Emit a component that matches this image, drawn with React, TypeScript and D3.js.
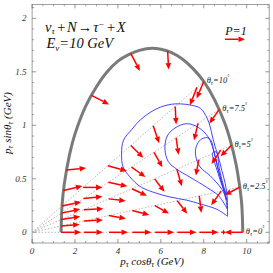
import React from 'react';
import * as d3 from 'd3';

// kinematic boundary (thick gray)
const boundaryX = [1.35, 1.4, 1.5, 1.75, 2, 2.5, 3, 3.5, 4, 4.5, 5, 5.6, 6, 6.5, 7, 7.5, 8, 8.5, 9, 9.25, 9.5, 9.66, 9.77, 9.82];
const boundaryY = [0, 0.26, 0.45, 0.73, 0.92, 1.18, 1.36, 1.5, 1.6, 1.66, 1.7, 1.72, 1.71, 1.68, 1.62, 1.53, 1.41, 1.24, 1.01, 0.85, 0.64, 0.45, 0.26, 0];

// dotted guide rays
const rayAngles = [0, 2.5, 5, 7.5, 10];
const rayEndP = [9.82, 9.69, 9.33, 8.8, 8.12];
const rayLabels = ['0', '2.5', '5', '7.5', '10'];

// polarization arrows: tail at (theta, p), vector (Px, Py)
const arrowTheta = [
  0, 0, 0, 0, 0, 0, 0, 0, 0,
  2.5, 2.5, 2.5, 2.5, 2.5, 2.5, 2.5, 2.5, 2.5,
  5, 5, 5, 5, 5, 5, 5, 5, 5,
  7.5, 7.5, 7.5, 7.5, 7.5, 7.5, 7.5, 7.5,
  10, 10, 10, 10, 10, 10, 10, 10,
  15, 15, 20, 20, 24.8,
];
const arrowP = [
  1.35, 2.417, 3.584, 4.673, 5.731, 6.771, 7.8, 8.82, 9.82,
  1.354, 2.417, 3.584, 4.673, 5.731, 6.771, 7.8, 8.82, 9.69,
  1.365, 2.417, 3.584, 4.673, 5.731, 6.771, 7.8, 8.82, 9.33,
  1.373, 2.417, 3.584, 4.673, 5.731, 6.771, 7.8, 8.8,
  1.415, 2.417, 3.584, 4.673, 5.731, 6.771, 7.8, 8.12,
  1.511, 6.54, 1.7, 4.89, 3.05,
];
const arrowPx = [
  1, 0.95, 0.95, 0.95, 0.95, 0.95, 0.95, 0.2, -0.9,
  0.925, 0.95, 0.85, 0.85, 0.7, 0.5, 0.1, -0.5, -0.75,
  0.95, 0.98, 0.85, 0.75, 0.5, 0.25, -0.15, -0.45, -0.55,
  0.95, 0.95, 0.95, 0.7, 0.42, 0.12, -0.2, -0.5,
  0.96, 0.97, 0.95, 0.62, 0.3, 0.05, -0.35, -0.35,
  0.95, 0.05, 0.99, 0.46, 0.88,
];
const arrowPy = [
  0, 0, 0, 0, 0, 0, 0, 0, 0,
  0.075, 0.05, -0.15, -0.225, -0.4, -0.65, -0.85, -0.7, -0.4,
  0.15, 0.05, -0.1, -0.35, -0.65, -0.85, -0.8, -0.7, -0.55,
  0.2, 0.1, -0.2, -0.5, -0.75, -0.85, -0.85, -0.7,
  0.2, 0, -0.26, -0.62, -0.87, -0.9, -0.9, -0.85,
  0.22, -0.92, 0.1, -0.88, -0.45,
];

// blue contour loops
const loopOuter: [number, number][] = [
  [9.11, 0.15], [8.61, 0.215], [7.83, 0.265], [7.21, 0.3], [6.43, 0.33], [5.64, 0.375], [5.02, 0.43],
  [4.56, 0.518], [4.24, 0.611], [4.17, 0.737], [4.26, 0.86], [4.64, 0.96], [5.04, 1.05], [5.5, 1.12],
  [5.98, 1.17], [6.5, 1.197], [6.91, 1.2], [7.36, 1.19], [7.85, 1.158], [8.16, 1.065], [8.3, 0.986],
  [8.4, 0.9], [8.53, 0.8], [8.68, 0.705], [8.84, 0.58], [9.0, 0.456], [9.09, 0.33], [9.11, 0.15],
];
const loopMiddle: [number, number][] = [
  [9.09, 0.22], [8.7, 0.34], [8.14, 0.42], [7.36, 0.515], [6.74, 0.59], [6.35, 0.66], [6.19, 0.78],
  [6.3, 0.9], [6.66, 0.975], [7.21, 1.015], [7.75, 0.98], [8.21, 0.89], [8.45, 0.77], [8.68, 0.58],
  [8.89, 0.42], [9.04, 0.3], [9.09, 0.22],
];
const loopInner: [number, number][] = [
  [9.08, 0.3], [8.85, 0.4], [8.29, 0.53], [7.83, 0.61], [7.62, 0.72], [7.65, 0.8], [7.85, 0.865],
  [8.14, 0.885], [8.33, 0.86], [8.48, 0.75], [8.66, 0.6], [8.85, 0.46], [9.0, 0.36], [9.08, 0.3],
];
const loopSmall: [number, number][] = [
  [9.05, 0.35], [8.85, 0.44], [8.62, 0.58], [8.45, 0.69], [8.4, 0.73], [8.48, 0.755], [8.6, 0.745],
  [8.72, 0.6], [8.9, 0.45], [9.05, 0.35],
];

const xTicks = [0, 2, 4, 6, 8, 10];
const yTicks = [0, 0.5, 1, 1.5, 2];
const yTickLabels = ['0', '0.5', '1', '1.5', '2'];

const RED = '#ff0000';
const FONT = '"Liberation Serif", "Times New Roman", serif';

const x = d3.scaleLinear().domain([0, 11.05]).range([32.1, 269.2]);
const y = d3.scaleLinear().domain([0, 2]).range([232.3, 18.3]);
const xMin = 0, xMax = 11.05, yMin = -0.1, yMax = 2.13;

const Arrow = ({ x1, y1, x2, y2 }: { x1: number; y1: number; x2: number; y2: number }) => {
  const ang = Math.atan2(y2 - y1, x2 - x1);
  const len = Math.hypot(x2 - x1, y2 - y1);
  const hl = Math.min(6.5, len * 0.6);
  const hw = 2.8;
  const bx = x2 - hl * Math.cos(ang);
  const by = y2 - hl * Math.sin(ang);
  const pts = [
    [x2, y2],
    [bx + hw * Math.sin(ang), by - hw * Math.cos(ang)],
    [bx - hw * Math.sin(ang), by + hw * Math.cos(ang)],
  ];
  return (
    <g>
      <line x1={x1} y1={y1} x2={bx} y2={by} stroke={RED} strokeWidth={1.5} />
      <polygon points={pts.map(p => p.join(',')).join(' ')} fill={RED} />
    </g>
  );
};

const Theta = ({ label }: { label: string }) => (
  <>
    θ<tspan fontSize="0.7em" dy="2">τ</tspan>
    <tspan dy="-2">={label}</tspan>
    <tspan fontSize="0.6em" dy="-4">°</tspan>
  </>
);

const App: React.FC = () => {
  const unit = x(0.932) - x(0); // |P| = 1 in pixels

  const boundary = d3.line<number>()
    .x((_, i) => x(boundaryX[i]))
    .y((_, i) => y(boundaryY[i]))
    .curve(d3.curveCatmullRom.alpha(0.5));

  const loopLine = d3.line<[number, number]>()
    .x(d => x(d[0]))
    .y(d => y(d[1]))
    .curve(d3.curveCatmullRom.alpha(0.5));

  const rad = (deg: number) => (deg * Math.PI) / 180;

  const xMinor = d3.range(0, 11.01, 0.5).filter(v => Math.abs(v % 2) > 1e-6);
  const yMinor = d3.range(-0.1, 2.13, 0.1).filter(v => Math.abs(Math.round(v * 10) % 5) !== 0);

  const fx0 = x(xMin), fx1 = x(xMax), fy0 = y(yMin), fy1 = y(yMax);
  const tickCol = '#555';

  return (
    <div style={{ position: 'absolute', left: 0, top: 0 }}>
      <svg width={273} height={273} style={{ display: 'block', background: '#fff' }}>
        {/* frame */}
        <rect x={fx0} y={fy1} width={fx1 - fx0} height={fy0 - fy1} fill="none" stroke="#888" strokeWidth={0.8} />
        {xTicks.map(t => (
          <g key={'xt' + t}>
            <line x1={x(t)} x2={x(t)} y1={fy0} y2={fy0 - 4} stroke={tickCol} strokeWidth={0.6} />
            <line x1={x(t)} x2={x(t)} y1={fy1} y2={fy1 + 4} stroke={tickCol} strokeWidth={0.6} />
            <text x={x(t)} y={254} fontSize={9} fontStyle="italic" fontFamily={FONT} textAnchor="middle" fill="#333">{t}</text>
          </g>
        ))}
        {xMinor.map(t => (
          <g key={'xm' + t}>
            <line x1={x(t)} x2={x(t)} y1={fy0} y2={fy0 - 2} stroke={tickCol} strokeWidth={0.5} />
            <line x1={x(t)} x2={x(t)} y1={fy1} y2={fy1 + 2} stroke={tickCol} strokeWidth={0.5} />
          </g>
        ))}
        {yTicks.map((t, i) => (
          <g key={'yt' + t}>
            <line x1={fx0} x2={fx0 + 4} y1={y(t)} y2={y(t)} stroke={tickCol} strokeWidth={0.6} />
            <line x1={fx1} x2={fx1 - 4} y1={y(t)} y2={y(t)} stroke={tickCol} strokeWidth={0.6} />
            <text x={26.5} y={y(t) + 3} fontSize={9} fontStyle="italic" fontFamily={FONT} textAnchor="end" fill="#333">{yTickLabels[i]}</text>
          </g>
        ))}
        {yMinor.map(t => (
          <g key={'ym' + t.toFixed(2)}>
            <line x1={fx0} x2={fx0 + 2} y1={y(t)} y2={y(t)} stroke={tickCol} strokeWidth={0.5} />
            <line x1={fx1} x2={fx1 - 2} y1={y(t)} y2={y(t)} stroke={tickCol} strokeWidth={0.5} />
          </g>
        ))}

        {/* dotted rays */}
        {rayAngles.map((a, i) => (
          <line key={'ray' + a}
            x1={x(0)} y1={y(0)}
            x2={x(rayEndP[i] * Math.cos(rad(a)))} y2={y(rayEndP[i] * Math.sin(rad(a)))}
            stroke="#aaa" strokeWidth={0.8} strokeDasharray="1.6,1.6" />
        ))}

        {/* contours */}
        {[loopOuter, loopMiddle, loopInner, loopSmall].map((lp, i) => (
          <path key={'loop' + i} d={loopLine(lp) || ''} fill="none" stroke="#2f2fff" strokeWidth={0.9} />
        ))}

        {/* boundary */}
        <path d={boundary(boundaryX) || ''} fill="none" stroke="#7a7a7a" strokeWidth={3} />

        {/* arrows */}
        {arrowTheta.map((a, i) => {
          const tx = x(arrowP[i] * Math.cos(rad(a)));
          const ty = y(arrowP[i] * Math.sin(rad(a)));
          return <Arrow key={'ar' + i} x1={tx} y1={ty} x2={tx + arrowPx[i] * unit} y2={ty - arrowPy[i] * unit} />;
        })}

        {/* ray labels */}
        {rayAngles.map((a, i) => (
          <text key={'rl' + a}
            x={x(rayEndP[i] * Math.cos(rad(a))) + 3}
            y={y(rayEndP[i] * Math.sin(rad(a))) + 2}
            fontSize={8.5} fontStyle="italic" fontFamily={FONT} fill="#222">
            <Theta label={rayLabels[i]} />
          </text>
        ))}

        {/* legend P=1 */}
        <text x={x(9.0)} y={y(1.845)} fontSize={12} fontStyle="italic" fontFamily={FONT} fill="#111">P=1</text>
        <Arrow x1={x(8.99)} y1={y(1.804)} x2={x(8.99) + unit} y2={y(1.804)} />

        {/* title */}
        <text x={45} y={31.5} fontSize={14.5} fontStyle="italic" fontFamily={FONT} fill="#111">
          ν<tspan fontSize={9} dy={2}>τ</tspan>
          <tspan dy={-2} dx={1.5}>+</tspan>
          <tspan dx={1}>N</tspan>
          <tspan dx={1}>→</tspan>
          <tspan dx={1}>τ</tspan>
          <tspan fontSize={9} dy={-5}>−</tspan>
          <tspan dy={5} dx={1.5}>+</tspan>
          <tspan dx={1}>X</tspan>
        </text>
        <text x={46.5} y={48} fontSize={14.5} fontStyle="italic" fontFamily={FONT} fill="#111">
          E<tspan fontSize={9} dy={2.5}>ν</tspan>
          <tspan dy={-2.5}>=10 GeV</tspan>
        </text>

        {/* axis labels */}
        <text x={152} y={265} fontSize={11} fontStyle="italic" fontFamily={FONT} textAnchor="middle" fill="#111">
          p<tspan fontSize={8} dy={2}>τ</tspan>
          <tspan dy={-2}> cosθ</tspan>
          <tspan fontSize={8} dy={2}>τ</tspan>
          <tspan dy={-2}> (GeV)</tspan>
        </text>
        <text transform="translate(11,123) rotate(-90)" fontSize={11} fontStyle="italic" fontFamily={FONT} textAnchor="middle" fill="#111">
          p<tspan fontSize={8} dy={2}>τ</tspan>
          <tspan dy={-2}> sinθ</tspan>
          <tspan fontSize={8} dy={2}>τ</tspan>
          <tspan dy={-2}> (GeV)</tspan>
        </text>
      </svg>
    </div>
  );
};

export default App;
